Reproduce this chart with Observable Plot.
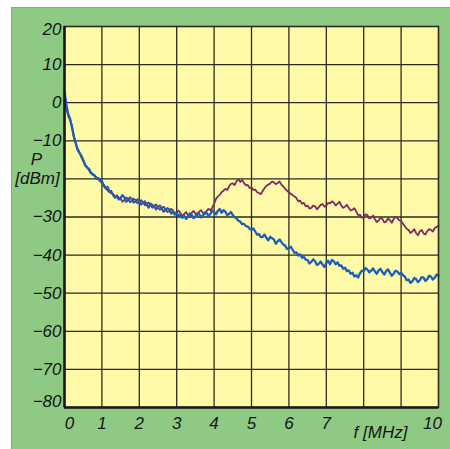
<!DOCTYPE html>
<html>
<head>
<meta charset="utf-8">
<script src="https://cdn.jsdelivr.net/npm/d3@7"></script>
<script src="https://cdn.jsdelivr.net/npm/@observablehq/plot@0.6"></script>
<style>
  html, body { margin: 0; padding: 0; background: #ffffff; }
  #wrap { position: relative; width: 450px; height: 449px; overflow: hidden; }
  #panel { position: absolute; left: 11px; top: 7px; width: 439px; height: 442px; background: #8fca84;
           border-top: 1px solid #9a9a9a; border-left: 1px solid #9a9a9a; box-sizing: border-box; }
  #chart { position: absolute; left: 0; top: 0; }
</style>
</head>
<body>
<div id="wrap"><div id="panel"></div><div id="chart"></div></div>
<script>
const freq = [
0.00,0.05,0.10,0.15,0.20,0.25,0.30,0.35,0.40,0.45,0.50,0.55,0.60,0.65,0.70,0.75,0.80,0.85,0.90,0.95,
1.00,1.05,1.10,1.15,1.20,1.25,1.30,1.35,1.40,1.45,1.50,1.55,1.60,1.65,1.70,1.75,1.80,1.85,1.90,1.95,
2.00,2.05,2.10,2.15,2.20,2.25,2.30,2.35,2.40,2.45,2.50,2.55,2.60,2.65,2.70,2.75,2.80,2.85,2.90,2.95,
3.00,3.05,3.10,3.15,3.20,3.25,3.30,3.35,3.40,3.45,3.50,3.55,3.60,3.65,3.70,3.75,3.80,3.85,3.90,3.95,
4.00,4.05,4.10,4.15,4.20,4.25,4.30,4.35,4.40,4.45,4.50,4.55,4.60,4.65,4.70,4.75,4.80,4.85,4.90,4.95,
5.00,5.05,5.10,5.15,5.20,5.25,5.30,5.35,5.40,5.45,5.50,5.55,5.60,5.65,5.70,5.75,5.80,5.85,5.90,5.95,
6.00,6.05,6.10,6.15,6.20,6.25,6.30,6.35,6.40,6.45,6.50,6.55,6.60,6.65,6.70,6.75,6.80,6.85,6.90,6.95,
7.00,7.05,7.10,7.15,7.20,7.25,7.30,7.35,7.40,7.45,7.50,7.55,7.60,7.65,7.70,7.75,7.80,7.85,7.90,7.95,
8.00,8.05,8.10,8.15,8.20,8.25,8.30,8.35,8.40,8.45,8.50,8.55,8.60,8.65,8.70,8.75,8.80,8.85,8.90,8.95,
9.00,9.05,9.10,9.15,9.20,9.25,9.30,9.35,9.40,9.45,9.50,9.55,9.60,9.65,9.70,9.75,9.80,9.85,9.90,9.95,
10.00];

const bluePower = [
3,-0.5,-3,-4.2,-6.5,-8.8,-10.5,-12.4,-13.2,-13.9,-15,-16.4,-17,-17.3,-18.2,-18.9,-19,-19.9,-19.8,-20.1,
-20.6,-21.8,-22.5,-22.1,-23.2,-23.7,-24,-24.9,-24.6,-25.4,-25,-24.3,-24.8,-26,-25.5,-24.9,-25.3,-26.2,-26,-25.4,
-25.8,-26.7,-26.3,-25.9,-26.8,-27.5,-26.5,-26.9,-27.2,-28,-27.4,-27,-27.8,-28.6,-28.2,-27.7,-28,-29.1,-28.6,-29.4,
-29,-29.8,-29.3,-30.2,-29.6,-30.5,-30,-29.1,-29.4,-30.3,-29.8,-29,-29.2,-30.1,-29.6,-28.8,-28.9,-29.7,-29.2,-28.3,
-28.7,-29.3,-28.4,-27.9,-28.9,-28.2,-28.6,-29.5,-29.2,-28.7,-29.5,-30.1,-30.4,-31,-31.2,-31.9,-31.8,-32.4,-32.5,-33.1,
-33.3,-33,-33.8,-34.6,-34.5,-35.3,-35.2,-34.6,-35.5,-36.1,-35.2,-35.6,-35.9,-37,-36.4,-35.9,-36.6,-37.2,-37.5,-38.4,
-38.2,-37.8,-38.6,-39.4,-39.3,-40.1,-39.8,-40.7,-40.5,-41.2,-41.3,-42.2,-41.8,-41.1,-41.6,-42.6,-42.3,-41.7,-42.5,-43.1,
-42.1,-41.5,-42.4,-41.3,-41.6,-42.4,-41.9,-42.8,-42.7,-43.6,-43.3,-44.2,-44,-44.9,-44.6,-45.6,-45.3,-45.9,-44.8,-44.1,
-44.2,-43.4,-43.8,-44.5,-44.1,-43.5,-44.3,-44.9,-44,-43.6,-44.5,-45.1,-44.2,-43.7,-44.6,-45.4,-44.9,-44.1,-44.3,-45,
-44.6,-45.3,-45.6,-46.6,-46.4,-47.3,-46.9,-46,-46.3,-47.1,-46.6,-45.8,-45.9,-46.8,-46.3,-45.4,-45.7,-46.4,-45.9,-45.1,
-45.4];

const purplePower = [
1,-1.5,-3.5,-4.6,-6,-9.1,-10.8,-12,-13,-14.3,-15.3,-16.2,-16.8,-17.7,-18.5,-18.6,-19.2,-19.5,-20,-20.6,
-21,-21.5,-22.2,-23,-23.5,-23.1,-24.4,-24.8,-24.3,-24.9,-25.2,-26,-25.5,-24.9,-25.2,-26.1,-25.8,-25.2,-25.6,-26.4,
-26,-25.6,-26.1,-26.9,-26.6,-26.2,-26.9,-27.6,-27,-26.7,-27.5,-28.1,-27.6,-27.3,-28,-28.7,-28.4,-27.9,-28.3,-29,
-28.8,-28.3,-29,-29.7,-29.2,-28.7,-29.5,-29.9,-28.9,-28.4,-29.1,-29.6,-28.6,-28.2,-28.9,-29.3,-28.4,-27.9,-28.2,-27.6,
-26.5,-25.3,-24.6,-24.2,-23.5,-23.1,-22.6,-22.9,-22,-21.3,-21.2,-21.6,-20.6,-20.1,-20.8,-20.3,-21.1,-21.7,-21.6,-22.4,
-22.2,-22.9,-22.8,-23.5,-23.7,-24,-23.2,-22.4,-21.8,-21.5,-21.2,-20.7,-20.9,-21.4,-21.1,-20.7,-21.5,-22,-22.6,-23.1,
-23.5,-23.9,-24.3,-24.6,-25,-25.9,-25.7,-26.5,-26.3,-27.2,-27,-27.8,-27.6,-27,-27.2,-28,-27.4,-26.8,-26.6,-27.3,
-27,-26.3,-26.4,-25.9,-26.2,-27,-26.5,-26,-27,-27.6,-27.3,-26.8,-27.6,-28.3,-28.1,-27.7,-28.6,-29.5,-29.4,-30.2,
-30,-29.3,-29.5,-30.4,-30.2,-29.6,-30.6,-31.3,-30.9,-30.2,-30.5,-31.4,-31.2,-30.4,-30.8,-31.5,-30.6,-29.9,-30.3,-30.9,
-31,-31.8,-32.4,-33.1,-33.4,-34.2,-33.8,-33.2,-34.2,-34.8,-33.8,-33.4,-34.3,-34.6,-33.7,-33.2,-33.4,-33.8,-32.9,-32.6,
-32.3];

const yTicks = [-80,-70,-60,-50,-40,-30,-20,-10,0,10,20];
const yTickLabels = [-80,-70,-60,-50,-40,-30,-10,0,10,20];
const xTicks = [0,1,2,3,4,5,6,7,8,9,10];
const xTickLabels = [0,1,2,3,4,5,6,7,10];
const xLabel = "f [MHz]";
const yLabel1 = "P";
const yLabel2 = "[dBm]";

const blue = freq.map((f, i) => ({f, p: bluePower[i]}));
const purple = freq.map((f, i) => ({f, p: purplePower[i]}));

const fmt = d => d < 0 ? "\u2212" + Math.abs(d) : String(d);
const inner = t => t.slice(1, -1);
const gridCol = "#2b2b20";
const txtCol = "#151515";

const chart = Plot.plot({
  width: 450,
  height: 449,
  marginLeft: 64,
  marginRight: 12,
  marginTop: 26,
  marginBottom: 42,
  x: {domain: [0, 10]},
  y: {domain: [-80, 20]},
  style: {background: "transparent", fontFamily: "'Liberation Sans', Arial, sans-serif", fontSize: "17px", fontStyle: "italic", color: txtCol},
  marks: [
    Plot.frame({fill: "#fffaa8"}),
    Plot.gridX({ticks: inner(xTicks), stroke: gridCol, strokeOpacity: 1, strokeWidth: 1.3}),
    Plot.gridY({ticks: inner(yTicks), stroke: gridCol, strokeOpacity: 1, strokeWidth: 1.3}),
    Plot.line(purple, {x: "f", y: "p", stroke: "#7b2d63", strokeWidth: 1.8, strokeLinejoin: "round"}),
    Plot.line(blue, {x: "f", y: "p", stroke: "#1b5fba", strokeWidth: 2.3, strokeLinejoin: "round"}),
    Plot.frame({stroke: gridCol, strokeWidth: 1.6}),
    Plot.ruleX([0], {stroke: "#1a1a1a", strokeWidth: 2.5}),
    Plot.ruleY([-80], {stroke: "#1a1a1a", strokeWidth: 2.5}),
    Plot.axisY(yTickLabels.slice(1, -1), {tickSize: 0, tickPadding: 3, tickFormat: fmt, label: null, fontSize: 17}),
    Plot.axisY([yTickLabels[yTickLabels.length - 1]], {tickSize: 0, tickPadding: 3, tickFormat: fmt, label: null, dy: 3, fontSize: 17}),
    Plot.axisY([yTickLabels[0]], {tickSize: 0, tickPadding: 3, tickFormat: fmt, label: null, dy: -6, fontSize: 17}),
    Plot.axisX(xTickLabels.slice(1, -1), {tickSize: 0, tickPadding: 9, tickFormat: fmt, label: null, fontSize: 17}),
    Plot.axisX([xTickLabels[0]], {tickSize: 0, tickPadding: 9, tickFormat: fmt, label: null, dx: 5, fontSize: 17}),
    Plot.axisX([xTickLabels[xTickLabels.length - 1]], {tickSize: 0, tickPadding: 9, tickFormat: fmt, label: null, dx: -6, fontSize: 17}),
    Plot.text([xLabel], {frameAnchor: "bottom-right", text: d => d, textAnchor: "middle", lineAnchor: "middle", dx: -58, dy: 25, fontSize: 17, fill: txtCol}),
    Plot.text([yLabel1], {frameAnchor: "left", text: d => d, textAnchor: "middle", lineAnchor: "middle", dx: -28, dy: -57, fontSize: 17, fill: txtCol}),
    Plot.text([yLabel2], {frameAnchor: "left", text: d => d, textAnchor: "middle", lineAnchor: "middle", dx: -27, dy: -38, fontSize: 17, fill: txtCol})
  ]
});
document.getElementById("chart").appendChild(chart);
</script>
</body>
</html>
